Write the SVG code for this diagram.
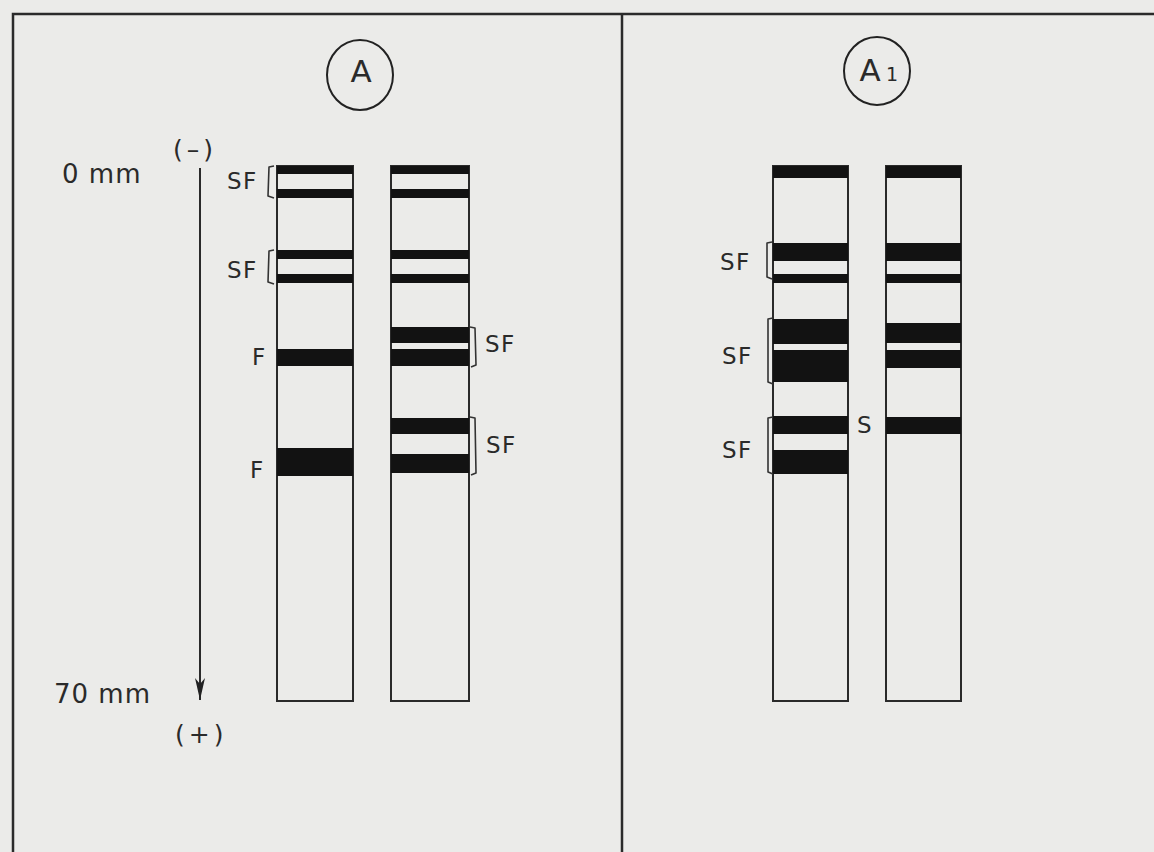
<svg xmlns="http://www.w3.org/2000/svg" width="1154" height="852" viewBox="0 0 1154 852">
<defs>
<marker id="ah" viewBox="0 0 22 10" refX="22" refY="5" markerWidth="22" markerHeight="10" markerUnits="userSpaceOnUse" orient="auto">
<path d="M0,0 L22,5 L0,10 L6,5 Z" fill="#222"/>
</marker>
</defs>
<style>
.bg{fill:#ebebe9}
.frame{stroke:#2a2a2a;stroke-width:2.5;fill:none}
.lane{fill:none;stroke:#2a2a2a;stroke-width:2}
.band{fill:#121212}
.br{fill:none;stroke:#333;stroke-width:1.6;stroke-linejoin:round}
.t{font-family:"DejaVu Sans","Liberation Sans",sans-serif;fill:#2a2a2a}
.lab{font-size:23px;letter-spacing:1.5px}
.big{font-size:26px;letter-spacing:1px}
.pm{font-size:25px;letter-spacing:4px}
.circ{fill:none;stroke:#222;stroke-width:2}
</style>
<rect class="bg" x="0" y="0" width="1154" height="852"/>
<g id="frame">
<path class="frame" d="M13,852 L13,14 L1154,14"/>
<line class="frame" x1="622" y1="14" x2="622" y2="852"/>
</g>

<g id="titleA">
<ellipse class="circ" cx="360" cy="75" rx="33" ry="35"/>
<text class="t" x="361" y="82" font-size="31" text-anchor="middle">A</text>
</g>
<g id="titleA1">
<ellipse class="circ" cx="877" cy="71" rx="33" ry="34"/>
<text class="t" x="870" y="81" font-size="31" text-anchor="middle">A</text>
<text class="t" x="892" y="81" font-size="19" text-anchor="middle">1</text>
</g>

<g id="scale">
<text class="t big" x="62" y="183">0 mm</text>
<text class="t big" x="54" y="703">70 mm</text>
<text class="t pm" x="173" y="158">(–)</text>
<text class="t pm" x="175" y="743">(+)</text>
</g>

<g id="connectors">
<line x1="200" y1="168" x2="200" y2="700" stroke="#2a2a2a" stroke-width="2" marker-end="url(#ah)"/>
</g>

<g id="laneA1">
<rect class="lane" x="277" y="166" width="76" height="535"/>
<rect class="band" x="277" y="166" width="76" height="8"/>
<rect class="band" x="277" y="189" width="76" height="9"/>
<rect class="band" x="277" y="250" width="76" height="9"/>
<rect class="band" x="277" y="274" width="76" height="9"/>
<rect class="band" x="277" y="349" width="76" height="17"/>
<rect class="band" x="277" y="448" width="76" height="28"/>
</g>
<g id="laneA2">
<rect class="lane" x="391" y="166" width="78" height="535"/>
<rect class="band" x="391" y="166" width="78" height="8"/>
<rect class="band" x="391" y="189" width="78" height="9"/>
<rect class="band" x="391" y="250" width="78" height="9"/>
<rect class="band" x="391" y="274" width="78" height="9"/>
<rect class="band" x="391" y="327" width="78" height="16"/>
<rect class="band" x="391" y="349" width="78" height="17"/>
<rect class="band" x="391" y="418" width="78" height="16"/>
<rect class="band" x="391" y="454" width="78" height="19"/>
</g>
<g id="laneA1_1">
<rect class="lane" x="773" y="166" width="75" height="535"/>
<rect class="band" x="773" y="166" width="75" height="12"/>
<rect class="band" x="773" y="243" width="75" height="18"/>
<rect class="band" x="773" y="274" width="75" height="9"/>
<rect class="band" x="773" y="319" width="75" height="25"/>
<rect class="band" x="773" y="350" width="75" height="32"/>
<rect class="band" x="773" y="416" width="75" height="18"/>
<rect class="band" x="773" y="450" width="75" height="24"/>
</g>
<g id="laneA1_2">
<rect class="lane" x="886" y="166" width="75" height="535"/>
<rect class="band" x="886" y="166" width="75" height="12"/>
<rect class="band" x="886" y="243" width="75" height="18"/>
<rect class="band" x="886" y="274" width="75" height="9"/>
<rect class="band" x="886" y="323" width="75" height="20"/>
<rect class="band" x="886" y="350" width="75" height="18"/>
<rect class="band" x="886" y="417" width="75" height="17"/>
</g>

<g id="labelsA">
<path class="br" d="M274,166 L269,167 L268,196 L274,198"/>
<text class="t lab" x="227" y="189">SF</text>
<path class="br" d="M274,250 L269,251 L268,282 L274,284"/>
<text class="t lab" x="227" y="278">SF</text>
<text class="t lab" x="252" y="365">F</text>
<text class="t lab" x="250" y="478">F</text>
<path class="br" d="M470,327 L475,328 L476,365 L471,367"/>
<text class="t lab" x="485" y="352">SF</text>
<path class="br" d="M470,417 L475,418 L476,473 L471,475"/>
<text class="t lab" x="486" y="453">SF</text>
</g>
<g id="labelsA1">
<path class="br" d="M772,242 L767,243 L767,277 L772,279"/>
<text class="t lab" x="720" y="270">SF</text>
<path class="br" d="M773,318 L768,319 L768,382 L773,384"/>
<text class="t lab" x="722" y="364">SF</text>
<path class="br" d="M773,417 L768,418 L768,472 L773,474"/>
<text class="t lab" x="722" y="458">SF</text>
<text class="t lab" x="857" y="433">S</text>
</g>
</svg>
